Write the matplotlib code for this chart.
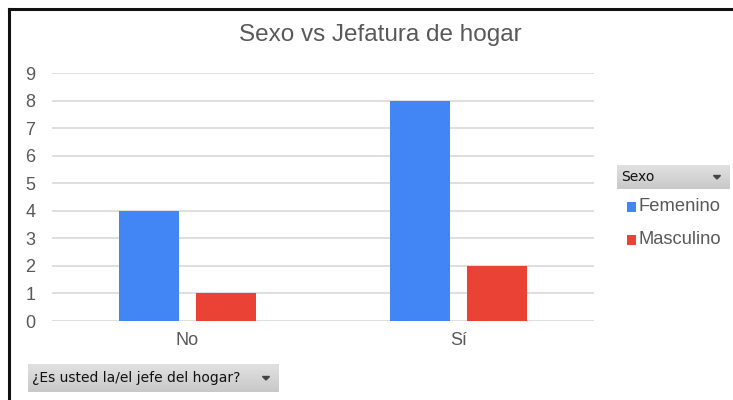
import numpy as np
import matplotlib.pyplot as plt
from matplotlib.patches import Rectangle, Polygon
from matplotlib.lines import Line2D

# Données
categorias = ['No', 'Sí']
femenino = [4, 8]
masculino = [1, 2]
series = ['Femenino', 'Masculino']
colores = ['#4285F4', '#EA4335']

plt.rcParams['font.family'] = ['Liberation Sans', 'DejaVu Sans']
gris = '#595959'

fig = plt.figure(figsize=(7.33, 4.0), dpi=100)
ax = fig.add_axes([52 / 733, 79 / 400, 542 / 733, 248 / 400])

x = np.arange(len(categorias))
ancho = 0.221
ax.bar(x - 0.142, femenino, ancho, color=colores[0], zorder=3)
ax.bar(x + 0.142, masculino, ancho, color=colores[1], zorder=3)

ax.set_xlim(-0.5, 1.5)
ax.set_ylim(0, 9)
ax.set_yticks(range(0, 10))
ax.set_xticks(x)
ax.set_xticklabels(categorias)
ax.grid(axis='y', color='#D9D9D9', linewidth=1.2, zorder=0)
for s in ax.spines.values():
    s.set_visible(False)
ax.tick_params(length=0, labelsize=13, colors=gris)
ax.tick_params(axis='y', pad=12)
ax.tick_params(axis='x', pad=8)

fig.text(380 / 733, 1 - 35 / 400, 'Sexo vs Jefatura de hogar', ha='center', va='center',
         fontsize=17.5, color=gris)

# Cadre noir (gauche et haut)
fig.add_artist(Line2D([9 / 733, 9 / 733], [0, 1 - 9 / 400], color='#111111', linewidth=2.2,
                      transform=fig.transFigure))
fig.add_artist(Line2D([9 / 733, 1], [1 - 9 / 400, 1 - 9 / 400], color='#111111', linewidth=2.2,
                      transform=fig.transFigure))


def boton(x0, y0, w, h, texto):
    # bouton gris style tableau croisé dynamique
    n = 20
    for i in range(n):
        c = 0.88 - 0.10 * i / n
        fig.add_artist(Rectangle(((x0) / 733, 1 - (y0 + h * (i + 1) / n) / 400), w / 733, h / n / 400,
                                 transform=fig.transFigure, color=(c, c, c), linewidth=0))
    fig.text((x0 + 4) / 733, 1 - (y0 + h / 2) / 400, texto, ha='left', va='center',
             fontsize=10, color='#111111', family=['DejaVu Sans'])
    ax_ = x0 + w - 13
    ay = y0 + h / 2
    fig.add_artist(Polygon([[(ax_ - 3.5) / 733, 1 - (ay - 1.5) / 400], [(ax_ + 3.5) / 733, 1 - (ay - 1.5) / 400],
                            [ax_ / 733, 1 - (ay + 2) / 400]], closed=True, transform=fig.transFigure,
                           color='#444444'))


boton(617, 165, 113, 24, 'Sexo')
boton(28, 364, 251, 28, '¿Es usted la/el jefe del hogar?')

# Légende
for i, (nom, col) in enumerate(zip(series, colores)):
    yy = 207 + 33 * i
    fig.add_artist(Rectangle((627 / 733, 1 - (yy + 5) / 400), 9 / 733, 10 / 400,
                             transform=fig.transFigure, color=col, linewidth=0))
    fig.text(639 / 733, 1 - yy / 400, nom, ha='left', va='center', fontsize=13.2, color=gris)

plt.savefig('out.png', dpi=100)
